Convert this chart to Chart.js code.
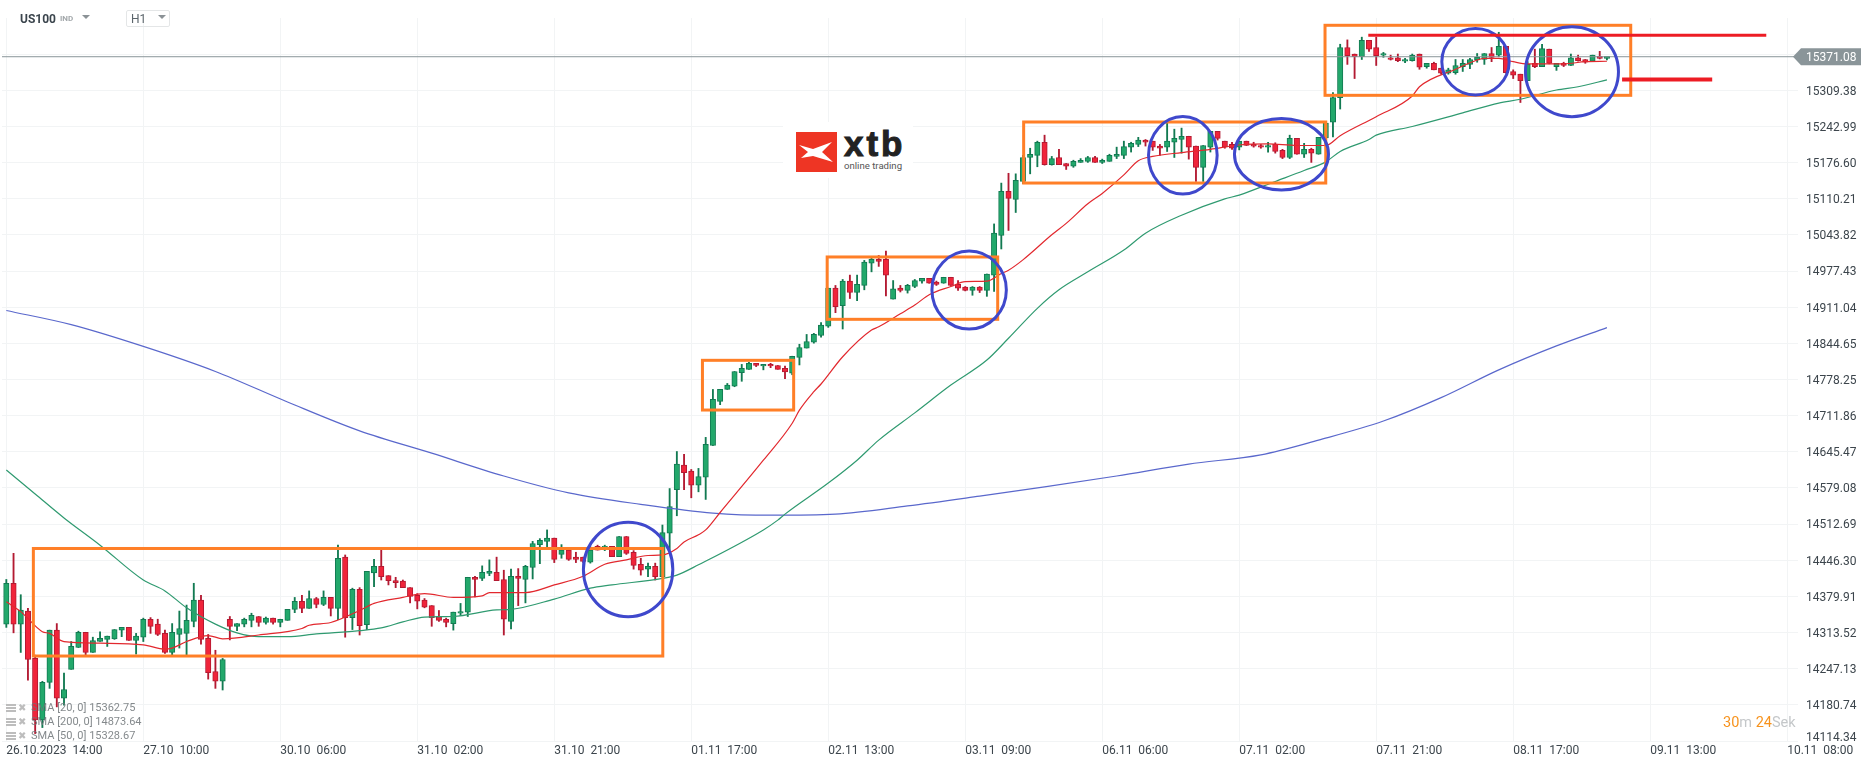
<!DOCTYPE html>
<html>
<head>
<meta charset="utf-8">
<title>US100 H1</title>
<script src="https://cdn.jsdelivr.net/npm/chart.js@4"></script>
<style>
html,body{margin:0;padding:0;background:#fff;font-family:Roboto,sans-serif}
#marco{position:relative;width:1866px;height:767px;overflow:hidden}
canvas{position:absolute;left:0;top:0}
.abs{position:absolute;white-space:pre}
.tri{position:absolute;width:0;height:0;border-left:4px solid transparent;border-right:4px solid transparent;border-top:4px solid #8b9296}
.sma{position:absolute;left:31px;font-size:11px;color:rgba(110,116,120,.85);white-space:pre;line-height:14px}
.ico{position:absolute;left:6px;width:10px;height:8px;background:repeating-linear-gradient(#bdbdbd 0 2px,#fff 2px 3px)}
.cruz{position:absolute;left:18px;font-size:10px;color:#bdbdbd;line-height:14px}
</style>
</head>
<body>
<div id="marco">
<canvas id="grafica" width="1866" height="767"></canvas>

<div class="abs" style="left:20px;top:11px;font-size:12px;font-weight:700;color:#3b454d;line-height:16px">US100</div>
<div class="abs" style="left:60px;top:14px;font-size:8px;font-weight:700;color:#a3a8ab;line-height:10px">IND</div>
<div class="tri" style="left:82px;top:15px"></div>
<div class="abs" style="left:126px;top:10px;width:42px;height:15px;border:1px solid #e4e6e7;border-radius:2px"></div>
<div class="abs" style="left:131px;top:12px;font-size:12px;color:#5b656b;line-height:15px">H1</div>
<div class="tri" style="left:158px;top:15px"></div>

<div class="abs" style="left:783px;top:122px;width:130px;height:56px;background:#fff"></div>
<svg class="abs" style="left:796px;top:132px" width="41" height="40" viewBox="0 0 41 40">
<rect width="41" height="40" fill="#ee3524"/>
<path d="M3 13 L17 17 L36 10 L26 20 L37 30 L17 24 L5 26 L12 20 Z" fill="#fff"/>
</svg>
<div class="abs" style="left:844px;top:124px;font-family:'Liberation Sans',sans-serif;font-weight:700;font-size:35px;letter-spacing:3px;color:#222;-webkit-text-stroke:1px #222;line-height:40px">xtb</div>
<div class="abs" style="left:844px;top:160px;font-size:9.6px;color:#555;line-height:12px">online trading</div>

<div class="ico" style="top:704px"></div><div class="cruz" style="top:701px">✖</div>
<div class="sma" style="top:701px">SMA [20, 0] 15362.75</div>
<div class="ico" style="top:718px"></div><div class="cruz" style="top:715px">✖</div>
<div class="sma" style="top:715px">SMA [200, 0] 14873.64</div>
<div class="ico" style="top:732px"></div><div class="cruz" style="top:729px">✖</div>
<div class="sma" style="top:729px">SMA [50, 0] 15328.67</div>

<div class="abs" style="left:1723px;top:714px;font-size:14.5px;line-height:17px;color:#c4c7c9"><span style="color:#f7931e">30</span>m <span style="color:#f7931e">24</span>Sek</div>
<div class="abs" style="left:1806px;top:730px;font-size:12px;color:#3c454c;line-height:14px">14114.34</div>
</div>

<script>
// velas H1, una por hora de mercado
var apertura=[
14329,14404,14329,14353,14266,14153,14222,14318,14193,14246,
14286,14314,14277,14297,14301,14302,14318,14323,14299,14305,
14338,14329,14312,14277,14310,14312,14334,14373,14303,14242,
14224,14338,14325,14329,14336,14343,14332,14340,14332,14336,
14356,14371,14358,14376,14365,14378,14358,14452,14341,14393,
14328,14423,14435,14418,14409,14408,14396,14382,14373,14363,
14343,14338,14330,14349,14351,14415,14413,14422,14424,14411,
14334,14417,14411,14433,14475,14481,14487,14457,14465,14452,
14452,14443,14472,14470,14472,14453,14490,14461,14439,14430,
14435,14416,14496,14576,14621,14610,14584,14599,14657,14738,
14760,14766,14791,14797,14808,14803,14806,14804,14799,14790,
14819,14836,14847,14859,14876,14946,14914,14959,14938,14951,
14992,14999,14999,14926,14946,14942,14949,14959,14964,14957,
14955,14966,14953,14948,14942,14948,14942,14970,15043,15124,
15109,15142,15186,15190,15214,15173,15186,15175,15170,15177,
15179,15186,15177,15179,15188,15190,15205,15210,15218,15216,
15207,15205,15214,15219,15225,15207,15168,15205,15234,15216,
15210,15205,15216,15210,15208,15205,15210,15199,15186,15221,
15192,15201,15192,15222,15251,15296,15388,15376,15371,15401,
15388,15374,15369,15369,15363,15364,15376,15353,15359,15350,
15341,15342,15353,15357,15365,15366,15377,15374,15390,15344,
15339,15327,15359,15353,15385,15353,15359,15355,15369,15366,
15363,15372,15368]
var cierre=[
14404,14329,14355,14264,14153,14222,14318,14193,14209,14288,
14314,14277,14299,14303,14307,14319,14323,14299,14307,14338,
14325,14310,14277,14314,14321,14336,14373,14301,14240,14224,
14264,14325,14330,14338,14345,14332,14340,14332,14338,14356,
14371,14358,14376,14365,14378,14358,14450,14341,14393,14326,
14426,14435,14416,14409,14405,14396,14380,14371,14360,14341,
14336,14332,14351,14352,14415,14411,14424,14426,14409,14338,
14417,14413,14435,14477,14483,14487,14448,14465,14448,14448,
14444,14465,14465,14472,14453,14490,14459,14437,14428,14435,
14416,14497,14545,14623,14607,14584,14600,14659,14742,14760,
14768,14793,14799,14808,14804,14806,14803,14797,14792,14821,
14837,14848,14861,14878,14946,14912,14959,14938,14953,14994,
14999,14995,14970,14945,14942,14951,14960,14964,14955,14953,
14966,14951,14946,14942,14948,14942,14972,15047,15124,15111,
15144,15186,15192,15214,15173,15184,15173,15170,15179,15181,
15186,15177,15181,15190,15192,15206,15212,15218,15214,15205,
15203,15216,15221,15225,15205,15168,15208,15234,15221,15205,
15203,15216,15208,15207,15205,15208,15197,15186,15221,15192,
15201,15194,15223,15249,15296,15388,15373,15371,15401,15385,
15373,15377,15366,15364,15366,15374,15352,15359,15347,15341,
15347,15355,15359,15366,15370,15377,15370,15390,15342,15337,
15327,15357,15353,15386,15359,15359,15355,15369,15364,15361,
15374,15368,15372]
var maximo=[
14411,14459,14383,14358,14272,14224,14318,14330,14239,14297,
14316,14314,14305,14315,14307,14319,14323,14323,14312,14340,
14341,14338,14318,14330,14353,14364,14404,14382,14310,14281,
14266,14343,14330,14340,14349,14343,14342,14340,14338,14356,
14378,14382,14390,14378,14390,14378,14474,14456,14395,14396,
14426,14448,14465,14418,14415,14410,14396,14385,14376,14363,
14354,14340,14351,14367,14415,14417,14436,14447,14452,14428,
14430,14431,14437,14481,14486,14502,14487,14475,14468,14461,
14452,14471,14474,14474,14472,14490,14490,14464,14450,14441,
14441,14511,14578,14646,14641,14613,14615,14672,14760,14760,
14771,14793,14806,14810,14808,14806,14808,14804,14803,14821,
14843,14861,14863,14883,14946,14951,14962,14970,14970,14997,
15004,15006,15014,14960,14951,14953,14962,14964,14964,14959,
14966,14966,14960,14949,14949,14949,14972,15064,15139,15157,
15156,15190,15203,15216,15227,15188,15201,15175,15181,15184,
15188,15188,15183,15192,15205,15216,15214,15223,15219,15216,
15210,15249,15238,15240,15225,15207,15208,15234,15234,15216,
15214,15216,15216,15214,15210,15214,15213,15201,15227,15221,
15212,15203,15223,15252,15305,15394,15402,15376,15407,15401,
15407,15379,15374,15376,15368,15376,15376,15359,15361,15350,
15350,15366,15366,15368,15377,15377,15388,15416,15390,15347,
15339,15362,15385,15394,15385,15359,15361,15376,15374,15366,
15374,15381,15372]
var minimo=[
14323,14313,14277,14226,14128,14139,14211,14177,14180,14246,
14286,14272,14277,14297,14288,14301,14306,14299,14274,14297,
14312,14308,14275,14272,14285,14272,14324,14292,14228,14211,
14208,14300,14317,14324,14324,14325,14329,14329,14324,14336,
14350,14350,14358,14359,14363,14344,14337,14305,14319,14309,
14319,14398,14410,14401,14396,14396,14368,14357,14359,14325,
14334,14324,14318,14345,14343,14379,14409,14418,14409,14309,
14320,14363,14368,14412,14440,14471,14442,14450,14446,14442,
14442,14441,14465,14464,14453,14453,14457,14430,14419,14416,
14410,14416,14466,14528,14576,14561,14572,14558,14657,14732,
14760,14765,14775,14797,14802,14796,14800,14797,14780,14787,
14805,14836,14845,14856,14874,14901,14871,14927,14923,14943,
14976,14986,14932,14926,14939,14937,14947,14955,14955,14951,
14955,14951,14942,14941,14933,14938,14931,14940,15018,15052,
15085,15138,15156,15169,15172,15172,15173,15164,15168,15177,
15177,15177,15175,15179,15184,15184,15196,15206,15207,15199,
15190,15197,15186,15194,15183,15142,15142,15196,15218,15203,
15201,15200,15208,15205,15203,15196,15194,15184,15184,15192,
15186,15177,15192,15207,15224,15275,15357,15331,15366,15381,
15355,15370,15365,15362,15360,15363,15348,15350,15347,15339,
15339,15339,15344,15349,15361,15357,15362,15371,15341,15331,
15287,15327,15351,15353,15358,15346,15353,15355,15363,15359,
15363,15367,15365]

var sma20Idx=[0,2,5,6,8,13,19,22,23,25,28,30,35,41,42,45,49,51,55,58,62,66,67,72,76,80,83,86,89,91,93,94,96,97,99,105,109,110,112,113,116,120,121,124,126,128,131,133,136,138,139,141,145,147,150,152,155,157,159,163,167,171,175,179,183,185,190,195,196,201,204,205,207,209,211,216,219,222]
var sma20=[14370,14352,14315,14312,14297,14294,14291,14283,14285,14297,14308,14302,14309,14321,14327,14332,14354,14367,14378,14385,14378,14381,14387,14387,14401,14417,14439,14447,14455,14456,14468,14480,14493,14502,14534,14630,14698,14722,14756,14770,14820,14869,14875,14899,14915,14934,14949,14958,14959,14973,14979,14998,15044,15065,15101,15120,15154,15180,15188,15195,15201,15209,15211,15208,15208,15226,15261,15299,15316,15348,15365,15368,15368,15362,15358,15358,15362,15362.75]
var sma50Idx=[0,4,8,13,19,22,25,29,32,35,39,43,49,52,55,58,62,68,70,76,81,84,91,93,96,105,107,108,114,118,121,126,131,136,139,143,146,150,155,158,163,169,171,176,180,183,185,189,190,195,202,207,210,215,218,222]
var sma50=[14612,14568,14524,14474,14410,14390,14359,14329,14313,14306,14306,14311,14317,14322,14333,14342,14343,14355,14356,14375,14395,14401,14413,14419,14438,14502,14520,14531,14588,14630,14667,14717,14768,14814,14854,14909,14943,14976,15016,15047,15080,15110,15117,15142,15162,15178,15197,15219,15227,15243,15268,15286,15293,15310,15316,15328.67]
var sma200Idx=[0,9,19,29,39,49,59,69,78,88,98,106,115,125,135,144,154,164,174,182,191,199,207,215,222]
var sma200=[14905,14879,14839,14793,14737,14684,14643,14601,14570,14549,14533,14529,14531,14546,14564,14581,14601,14623,14640,14667,14702,14745,14796,14840,14873.64]

var precioActual=15371.08

// eje de tiempo y de precios
var xTicks=[0,19,38,57,76,95,114,133,152,171,190,209,228,247]
var xEtiquetas=['26.10.2023  14:00','27.10  10:00','30.10  06:00','31.10  02:00','31.10  21:00','01.11  17:00','02.11  13:00','03.11  09:00','06.11  06:00','07.11  02:00','07.11  21:00','08.11  17:00','09.11  13:00','10.11  08:00']
var yTicks=[14114.34,14180.74,14247.13,14313.52,14379.91,14446.30,14512.69,14579.08,14645.47,14711.86,14778.25,14844.65,14911.04,14977.43,15043.82,15110.21,15176.60,15242.99,15309.38,15375.77]

// dibujos hechos a mano sobre la grafica
var rectX0=[3.75,96.55,113.85,141.1,182.9]
var rectX1=[91.05,109.2,137.5,183,225.3]
var rectArriba=[14467.9,14813.5,15003.3,15251.2,15428.8]
var rectAbajo=[14270.4,14722.2,14888.8,15139.1,15300.2]
var circX=[86.24,133.54,163.18,176.86,203.77,217.15]
var circY=[14429.3,14942.6,15190,15192,15361.9,15343.5]
var circRx=[6.2,5.16,4.76,6.52,4.67,6.45]
var circRy=[86.7,71.6,71.1,65.7,61.2,82.6]
var rayaX0=[188.9,224.1]
var rayaX1=[244.1,236.6]
var rayaY=[15410.4,15329.2]

var VERDE='#22a86b', VERDE_OSC='#127a52', ROJO='#f0243a', ROJO_OSC='#b31a32'

function puntos(xs,ys){
    return xs.map((x,i)=>({x:x,y:ys[i]}))
}
var sube=apertura.map((o,i)=>cierre[i]>=o)

var dibujos={
    id:'dibujos',
    afterDatasetsDraw(chart){
        var ctx=chart.ctx, sx=chart.scales.x, sy=chart.scales.y
        ctx.save()
        ctx.strokeStyle='#ff7f27'
        ctx.lineWidth=3
        rectX0.forEach((x,i)=>{
            var a=sx.getPixelForValue(x), b=sx.getPixelForValue(rectX1[i])
            var c=sy.getPixelForValue(rectArriba[i]), d=sy.getPixelForValue(rectAbajo[i])
            ctx.strokeRect(a,c,b-a,d-c)
        })
        ctx.strokeStyle='#3f48cc'
        circX.forEach((x,i)=>{
            var cx=sx.getPixelForValue(x), cy=sy.getPixelForValue(circY[i])
            var rx=sx.getPixelForValue(x+circRx[i])-cx, ry=cy-sy.getPixelForValue(circY[i]+circRy[i])
            ctx.beginPath()
            ctx.ellipse(cx,cy,rx,ry,0,0,Math.PI*2)
            ctx.stroke()
        })
        ctx.strokeStyle='#ed1c24'
        rayaX0.forEach((x,i)=>{
            ctx.lineWidth=i==0?3:4
            var y=sy.getPixelForValue(rayaY[i])
            ctx.beginPath()
            ctx.moveTo(sx.getPixelForValue(x),y)
            ctx.lineTo(sx.getPixelForValue(rayaX1[i]),y)
            ctx.stroke()
        })
        // etiqueta del precio actual
        var y=sy.getPixelForValue(precioActual), r=chart.chartArea.right
        ctx.fillStyle='#8a9599'
        ctx.beginPath()
        ctx.moveTo(r-5,y)
        ctx.lineTo(r+3,y-8.5)
        ctx.lineTo(r+63,y-8.5)
        ctx.lineTo(r+63,y+8.5)
        ctx.lineTo(r+3,y+8.5)
        ctx.closePath()
        ctx.fill()
        ctx.fillStyle='#fff'
        ctx.font='12px Roboto'
        ctx.textBaseline='middle'
        ctx.fillText(precioActual.toFixed(2),r+8,y+1.5)
        ctx.restore()
    }
}

var ctx=document.getElementById('grafica').getContext('2d')
var chart=new Chart(ctx,{
    type:'bar',
    data:{
        datasets:[
            {type:'line',data:[{x:-0.6,y:precioActual},{x:248.5,y:precioActual}],borderColor:'#8a9599',borderWidth:1,pointRadius:0,order:0},
            {type:'line',label:'SMA 20',data:puntos(sma20Idx,sma20),borderColor:'#e2282e',borderWidth:1.2,pointRadius:0,cubicInterpolationMode:'monotone',order:1},
            {type:'line',label:'SMA 50',data:puntos(sma50Idx,sma50),borderColor:'#2f9a70',borderWidth:1.2,pointRadius:0,cubicInterpolationMode:'monotone',order:1},
            {type:'line',label:'SMA 200',data:puntos(sma200Idx,sma200),borderColor:'#5a68cc',borderWidth:1.2,pointRadius:0,cubicInterpolationMode:'monotone',order:1},
            {
                label:'cuerpo',
                data:apertura.map((o,i)=>({x:i,y:[o,cierre[i]]})),
                backgroundColor:sube.map(s=>s?VERDE:ROJO),
                borderColor:sube.map(s=>s?VERDE_OSC:ROJO_OSC),
                borderWidth:1,
                borderSkipped:false,
                barThickness:5.4,
                grouped:false,
                order:2
            },
            {
                label:'mecha',
                data:minimo.map((l,i)=>({x:i,y:[l,maximo[i]]})),
                backgroundColor:sube.map(s=>s?VERDE_OSC:ROJO_OSC),
                borderWidth:0,
                barThickness:1.2,
                grouped:false,
                order:3
            }
        ]
    },
    options:{
        responsive:false,
        animation:false,
        layout:{padding:{left:2,top:18,right:0,bottom:0}},
        plugins:{legend:{display:false},tooltip:{enabled:false}},
        scales:{
            x:{
                type:'linear',
                offset:false,
                min:-0.6,
                max:248.5,
                afterBuildTicks(s){s.ticks=xTicks.map(v=>({value:v}))},
                afterFit(s){s.height=26;s.paddingLeft=0;s.paddingRight=0},
                border:{display:false},
                grid:{color:'#f2f4f5',lineWidth:1,drawTicks:false,offset:false},
                ticks:{
                    autoSkip:false,
                    maxRotation:0,
                    minRotation:0,
                    align:'start',
                    padding:3,
                    color:'#3c454c',
                    font:{family:'Roboto',size:12},
                    callback(v){return xEtiquetas[xTicks.indexOf(v)]}
                }
            },
            y:{
                type:'linear',
                position:'right',
                min:14114.34,
                max:15442.2,
                afterBuildTicks(s){s.ticks=yTicks.map(v=>({value:v}))},
                afterFit(s){s.width=68},
                border:{display:false},
                grid:{color:'#f2f4f5',lineWidth:1,drawTicks:false},
                ticks:{
                    autoSkip:false,
                    padding:8,
                    labelOffset:1.3,
                    color:'#3c454c',
                    font:{family:'Roboto',size:12},
                    // la ultima queda tapada por la etiqueta del precio y la primera va subida, fuera del canvas
                    callback(v){return (v==15375.77||v==14114.34)?'':v.toFixed(2)}
                }
            }
        }
    },
    plugins:[dibujos]
})
</script>
</body>
</html>
